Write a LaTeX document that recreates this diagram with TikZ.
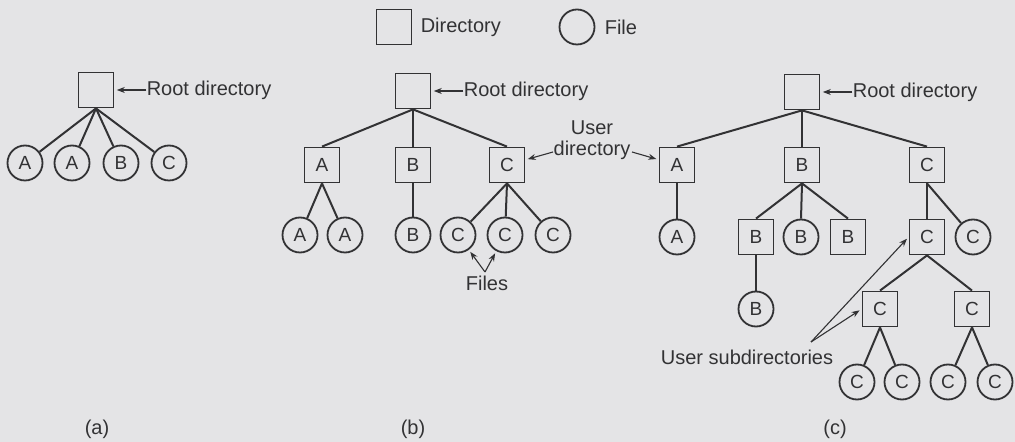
\documentclass[tikz,border=0pt]{standalone}
\usepackage{fontspec}
\setmainfont{Liberation Sans}
\usepackage{tikz}
\usetikzlibrary{arrows.meta,positioning}

\definecolor{paper}{RGB}{228,228,230}
\definecolor{ink}{RGB}{50,50,52}

\tikzset{
  dirbox/.style={draw=ink, line width=0.9pt, minimum size=17.5pt, inner sep=0pt,
    text=ink, font=\fontsize{9.5}{10}\selectfont},
  filebox/.style={circle, draw=ink, line width=0.9pt, minimum size=17.5pt, inner sep=0pt,
    text=ink, font=\fontsize{9.5}{10}\selectfont},
  link/.style={draw=ink, line width=1pt},
  pointer/.style={draw=ink, line width=0.55pt, -{Stealth[length=4pt,width=3pt]}, shorten >=1.2pt},
  lbl/.style={text=ink, inner sep=0pt, font=\fontsize{10}{10.2}\selectfont},
}

\begin{document}
\begin{tikzpicture}[x=0.5pt, y=-0.5pt]
   \fill[paper] (0,0) rectangle (1015,442);
   \useasboundingbox (0,0) rectangle (1015,442);

   % legend
   \node[dirbox] (keydir) at (394,27) {};
   \node[lbl, right=4pt of keydir] (keydirlbl) {Directory};
   \node[filebox] (keyfile) at (577,27) {};
   \node[lbl, right=4.5pt of keyfile] (keyfilelbl) {File};

   % (a) single-level directory
   \node[dirbox] (aroot) at (96,90) {};
   \node[lbl, right=16pt of aroot] (arootlbl) {Root directory};
   \draw[pointer] (arootlbl.west) -- (aroot.east);
   \foreach \x/\t [count=\i] in {25/A,72/A,121/B,169/C} {
      \node[filebox] (afile\i) at (\x,163) {\t};
      \draw[link] (aroot.south) -- (afile\i);
   }
   \node[lbl] (acap) at (97,429) {(a)};

   % (b) two-level directory
   \node[dirbox] (broot) at (413,91) {};
   \node[lbl, right=16pt of broot] (brootlbl) {Root directory};
   \draw[pointer] (brootlbl.west) -- (broot.east);
   \foreach \x/\t in {322/A,413/B,507/C} {
      \node[dirbox] (b\t) at (\x,165) {\t};
      \draw[link] (broot.south) -- (b\t.north);
   }
   \foreach \x/\t [count=\i] in {300/A,345/A,413/B,458/C,505/C,553/C} {
      \node[filebox] (bfile\i) at (\x,235) {\t};
      \draw[link] (b\t.south) -- (bfile\i);
   }
   \node[lbl] (fileslbl) at (487,283) {Files};
   \coordinate (filesfork) at (485,272);
   \draw[pointer] (filesfork) -- (bfile4);
   \draw[pointer] (filesfork) -- (bfile5);
   \node[lbl] (bcap) at (413,429) {(b)};

   % user directory label, shared by (b) and (c)
   \node[lbl, align=center] (userlbl) at (592,140) {User\\directory};
   \coordinate (userleft) at (553,152);
   \coordinate (userright) at (632,152);

   % (c) hierarchical directory
   \node[dirbox] (croot) at (802,92) {};
   \node[lbl, right=16pt of croot] (crootlbl) {Root directory};
   \draw[pointer] (crootlbl.west) -- (croot.east);
   \foreach \x/\t in {677/A,802/B,927/C} {
      \node[dirbox] (c\t) at (\x,165) {\t};
      \draw[link] (croot.south) -- (c\t.north);
   }
   \draw[pointer] (userleft) -- (bC);
   \draw[pointer] (userright) -- (cA);

   % third level
   \node[filebox] (cAf) at (677,237) {A};
   \node[dirbox] (cBB) at (756,237) {B};
   \node[filebox] (cBf) at (801,237) {B};
   \node[dirbox] (cBD) at (848,237) {B};
   \node[dirbox] (cCC) at (927,237) {C};
   \node[filebox] (cCf) at (973,237) {C};
   \draw[link] (cA.south) -- (cAf);
   \foreach \n in {cBB,cBf,cBD}
      \draw[link] (cB.south) -- (\n.north);
   \draw[link] (cC.south) -- (cCC.north);
   \draw[link] (cC.south) -- (cCf);

   % fourth level
   \node[filebox] (cBBf) at (756,309) {B};
   \draw[link] (cBB.south) -- (cBBf);
   \node[dirbox] (cCL) at (880,309) {C};
   \node[dirbox] (cCR) at (972,309) {C};
   \draw[link] (cCC.south) -- (cCL.north);
   \draw[link] (cCC.south) -- (cCR.north);

   % leaves under the subdirectories
   \foreach \x/\p [count=\i] in {857/cCL,902/cCL,948/cCR,995/cCR} {
      \node[filebox] (cleaf\i) at (\x,382) {C};
      \draw[link] (\p.south) -- (cleaf\i);
   }

   \node[lbl] (sublbl) at (747,357) {User subdirectories};
   \coordinate (subfork) at (811,342);
   \draw[pointer] (subfork) -- (cCC.west);
   \draw[pointer] (subfork) -- (cCL.west);
   \node[lbl] (ccap) at (835,429) {(c)};
\end{tikzpicture}
\end{document}
